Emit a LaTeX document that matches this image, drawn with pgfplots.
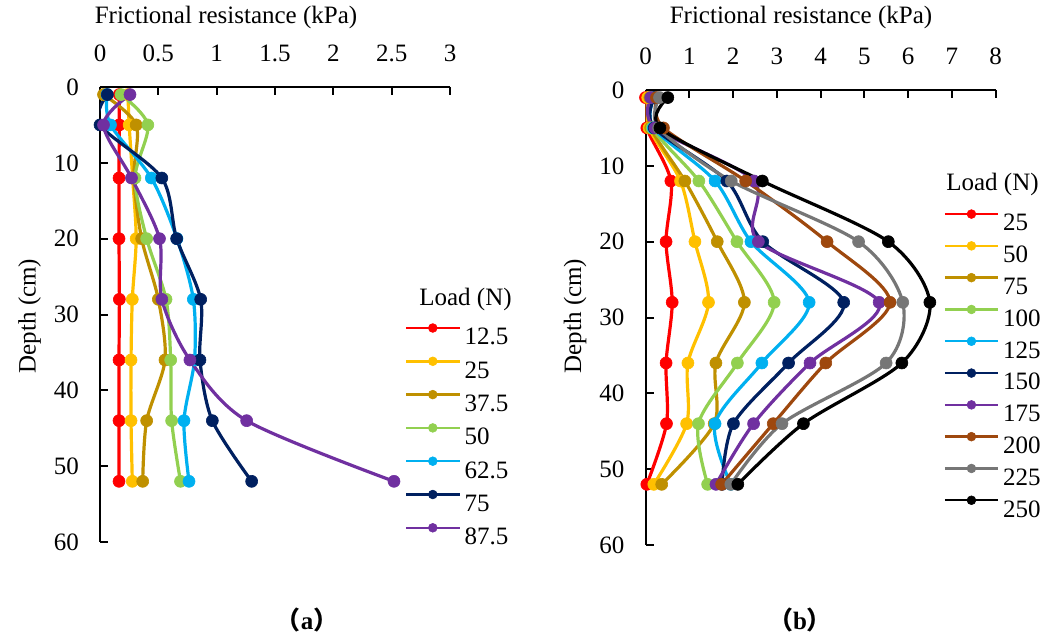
\documentclass[border=0pt]{standalone}
\usepackage{fontspec}
\setmainfont{Liberation Serif}
\newfontfamily\cjk{Noto Sans CJK SC}
\usepackage{pgfplots}
\pgfplotsset{compat=1.18}

\definecolor{cRed}{HTML}{FF0000}
\definecolor{cYel}{HTML}{FFC000}
\definecolor{cGold}{HTML}{BF9000}
\definecolor{cGrn}{HTML}{92D050}
\definecolor{cBlu}{HTML}{00B0F0}
\definecolor{cNavy}{HTML}{002060}
\definecolor{cPur}{HTML}{7030A0}
\definecolor{cBrn}{HTML}{9E480E}
\definecolor{cGry}{HTML}{767676}

\newcommand{\lbl}{\fontsize{12.5}{15}\selectfont}

\pgfplotsset{
  prof/.style={
    width=175pt, height=227.5pt, scale only axis,
    y dir=reverse, ymin=0, ymax=60, ytick distance=10,
    axis x line*=top, axis y line*=left,
    axis line style={line width=1pt, black},
    every tick/.style={black, line width=1pt},
    major tick length=4pt,
    tick label style={font=\lbl},
    /pgf/number format/assume math mode=true,
    xticklabel style={yshift=9pt},
    yticklabel style={xshift=-7pt},
    every axis plot/.append style={smooth, line width=1.6pt, mark=*, mark size=3pt,
      mark options={solid, line width=0.3pt}},
    legend cell align=left,
    legend style={draw=none, fill=none, font=\lbl, anchor=north west,
      inner sep=0pt, outer sep=0pt, column sep=2pt,
      nodes={inner sep=0pt, text height=8.5pt, text depth=0pt}},
    legend image code/.code={\draw[mark repeat=2,mark phase=2,#1,line width=1.2pt,mark size=2.2pt]
      plot coordinates {(0pt,4.2pt)(13.3pt,4.2pt)(26.6pt,4.2pt)};},
  },
}

\begin{document}
\begin{tikzpicture}
\useasboundingbox (0,0) rectangle (527.5pt,-317.5pt);

% (a)
\begin{axis}[prof, at={(50pt,-43.5pt)}, anchor=north west,
  xmin=0, xmax=3, xtick distance=0.5,
  legend style={at={(0.8714,0.480)}, row sep=6pt}]
\addplot[cRed] coordinates {(0.165,1)(0.165,5)(0.163,12)(0.163,20)(0.166,28)(0.163,36)(0.163,44)(0.163,52)};
\addplot[cYel] coordinates {(0.24,1)(0.25,5)(0.28,12)(0.31,20)(0.277,28)(0.266,36)(0.266,44)(0.277,52)};
\addplot[cGold] coordinates {(0.03,1)(0.31,5)(0.29,12)(0.357,20)(0.50,28)(0.557,36)(0.40,44)(0.366,52)};
\addplot[cGrn] coordinates {(0.18,1)(0.41,5)(0.30,12)(0.40,20)(0.566,28)(0.606,36)(0.614,44)(0.69,52)};
\addplot[cBlu] coordinates {(0.06,1)(0.09,5)(0.44,12)(0.66,20)(0.80,28)(0.81,36)(0.72,44)(0.763,52)};
\addplot[cNavy] coordinates {(0.063,1)(0.0,5)(0.53,12)(0.657,20)(0.863,28)(0.857,36)(0.963,44)(1.30,52)};
\addplot[cPur] coordinates {(0.257,1)(0.03,5)(0.27,12)(0.51,20)(0.53,28)(0.771,36)(1.257,44)(2.52,52)};
\legend{12.5,25,37.5,50,62.5,75,87.5}
\end{axis}

% (b)
\begin{axis}[prof, at={(322.75pt,-45pt)}, anchor=north west,
  xmin=0, xmax=8, xtick distance=1,
  legend style={at={(0.8518,0.737)}, row sep=5.25pt}]
\addplot[cRed] coordinates {(0.0,1)(0.03,5)(0.58,12)(0.47,20)(0.61,28)(0.47,36)(0.48,44)(0.03,52)};
\addplot[cYel] coordinates {(0.05,1)(0.08,5)(0.80,12)(1.13,20)(1.44,28)(0.97,36)(0.94,44)(0.19,52)};
\addplot[cGold] coordinates {(0.10,1)(0.12,5)(0.90,12)(1.64,20)(2.26,28)(1.61,36)(1.57,44)(0.37,52)};
\addplot[cGrn] coordinates {(0.15,1)(0.15,5)(1.22,12)(2.09,20)(2.94,28)(2.10,36)(1.21,44)(1.42,52)};
\addplot[cBlu] coordinates {(0.20,1)(0.18,5)(1.59,12)(2.41,20)(3.74,28)(2.66,36)(1.59,44)(1.95,52)};
\addplot[cNavy] coordinates {(0.20,1)(0.20,5)(1.86,12)(2.68,20)(4.53,28)(3.27,36)(2.01,44)(1.75,52)};
\addplot[cPur] coordinates {(0.12,1)(0.22,5)(2.48,12)(2.58,20)(5.34,28)(3.76,36)(2.47,44)(1.61,52)};
\addplot[cBrn] coordinates {(0.25,1)(0.41,5)(2.29,12)(4.15,20)(5.59,28)(4.12,36)(2.92,44)(1.74,52)};
\addplot[cGry] coordinates {(0.32,1)(0.30,5)(1.96,12)(4.87,20)(5.88,28)(5.50,36)(3.12,44)(1.95,52)};
\addplot[black] coordinates {(0.51,1)(0.33,5)(2.67,12)(5.55,20)(6.50,28)(5.86,36)(3.61,44)(2.11,52)};
\legend{25,50,75,100,125,150,175,200,225,250}
\end{axis}

% titles and labels
\node[font=\lbl] at (113pt,-8.5pt) {Frictional resistance (kPa)};
\node[font=\lbl] at (400.5pt,-8.5pt) {Frictional resistance (kPa)};
\node[font=\lbl, rotate=90] at (14.75pt,-158pt) {Depth (cm)};
\node[font=\lbl, rotate=90] at (287.5pt,-158pt) {Depth (cm)};
\node[font=\lbl] at (232.75pt,-149.5pt) {Load (N)};
\node[font=\lbl] at (496.25pt,-92pt) {Load (N)};
\node[font=\lbl\bfseries] at (153.5pt,-310pt) {{\cjk （}a{\cjk ）}};
\node[font=\lbl\bfseries] at (400pt,-310pt) {{\cjk （}b{\cjk ）}};
\end{tikzpicture}
\end{document}
